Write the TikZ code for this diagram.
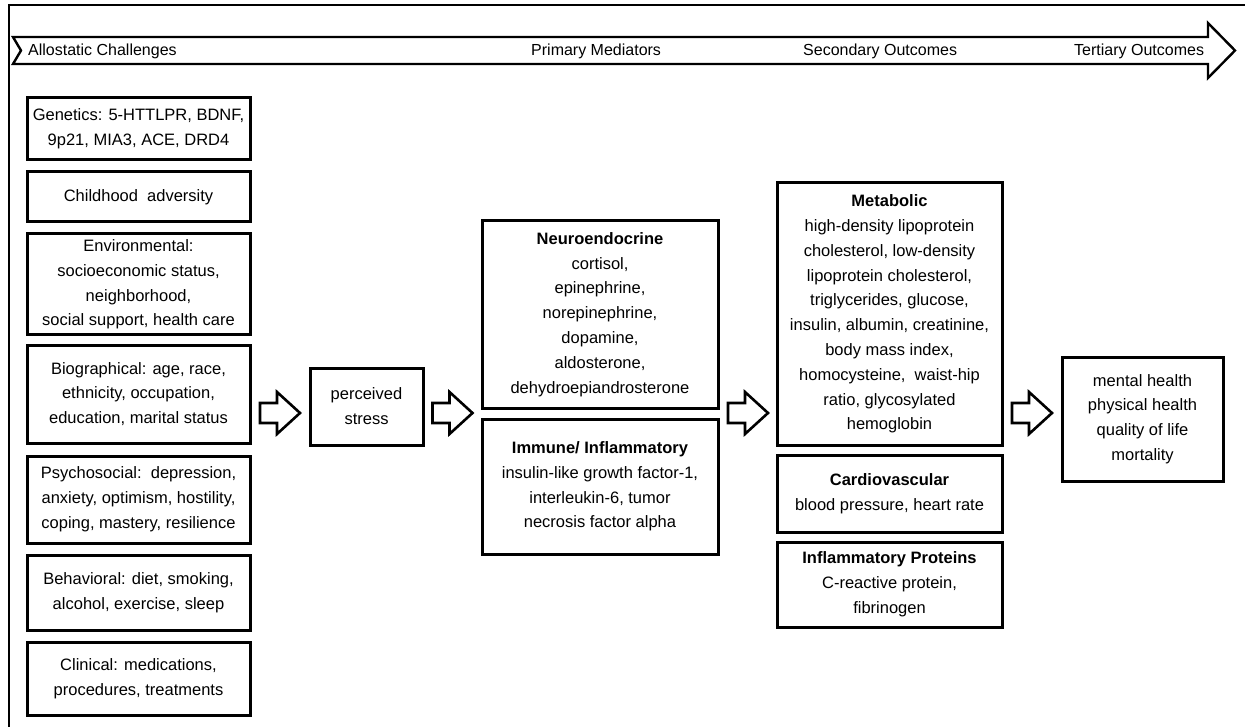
\documentclass[tikz,border=0pt]{standalone}
\usepackage{fontspec}
\setmainfont{Liberation Sans}
\newcommand\boxfont{\fontsize{16.5}{24.8}\selectfont}
\newcommand\labfont{\fontsize{16}{19}\selectfont}
\tikzset{
  box/.style={draw, line width=3pt, inner sep=0pt, align=center, font=\boxfont},
  lab/.style={anchor=west, inner sep=0pt, font=\labfont},
  frameline/.style={line width=1.8pt},
  pics/blockarrow/.style={code={
    \draw[line width=2.6pt, line join=miter] (-20,-10) -- (-3,-10) -- (-3,-21) -- (20,0) -- (-3,21) -- (-3,10) -- (-20,10) -- cycle;}}
}
\begin{document}
\begin{tikzpicture}[x=1pt,y=-1pt]
\useasboundingbox (0,0) rectangle (1245,727);
% frame
\draw[frameline] (9,727) -- (9,5) -- (1245,5);
% top arrow
\draw[line width=2.4pt, line join=miter] (13,37) -- (1208,37) -- (1208,23) -- (1235,50.5) -- (1208,78) -- (1208,64) -- (13,64) -- (21,50.5) -- cycle;
\node[lab] (l1) at (28,51) {Allostatic Challenges};
\node[lab] (l2) at (531,51) {Primary Mediators};
\node[lab] (l3) at (803,51) {Secondary Outcomes};
\node[lab] (l4) at (1074,51) {Tertiary Outcomes};
% left column
\node[box, minimum width=223pt, minimum height=62pt] (gen) at (138.5,129) {Genetics: 5-HTTLPR, BDNF,\\9p21, MIA3, ACE, DRD4};
\node[box, minimum width=223pt, minimum height=50pt] (child) at (138.5,197) {Childhood\ \ adversity};
\node[box, minimum width=223pt, minimum height=101pt] (env) at (138.5,284.5) {Environmental:\\socioeconomic status,\\neighborhood,\\social support, health care};
\node[box, minimum width=223pt, minimum height=98pt] (bio) at (138.5,394) {Biographical: age, race,\\ethnicity, occupation,\\education, marital status};
\node[box, minimum width=223pt, minimum height=87pt] (psy) at (138.5,499.5) {Psychosocial:\ \ depression,\\anxiety, optimism, hostility,\\coping, mastery, resilience};
\node[box, minimum width=223pt, minimum height=75pt] (beh) at (138.5,592.5) {Behavioral: diet, smoking,\\alcohol, exercise, sleep};
\node[box, minimum width=223pt, minimum height=73pt] (cli) at (138.5,678.5) {Clinical: medications,\\procedures, treatments};
% perceived stress
\node[box, minimum width=113pt, minimum height=77pt] (ps) at (366.5,406.5) {perceived\\stress};
% primary mediators
\node[box, minimum width=236pt, minimum height=187pt] (neu) at (600,314.5) {\textbf{Neuroendocrine}\\cortisol,\\epinephrine,\\norepinephrine,\\dopamine,\\aldosterone,\\dehydroepiandrosterone};
\node[box, minimum width=236pt, minimum height=135pt] (imm) at (600,486.5) {\textbf{Immune/ Inflammatory}\\insulin-like growth factor-1,\\interleukin-6, tumor\\necrosis factor alpha};
% secondary outcomes
\node[box, minimum width=225pt, minimum height=262pt] (met) at (889.5,314) {\textbf{Metabolic}\\high-density lipoprotein\\cholesterol, low-density\\lipoprotein cholesterol,\\triglycerides, glucose,\\insulin, albumin, creatinine,\\body mass index,\\homocysteine,\ \ waist-hip\\ratio, glycosylated\\hemoglobin};
\node[box, minimum width=225pt, minimum height=77pt] (car) at (889.5,493.5) {\textbf{Cardiovascular}\\blood pressure, heart rate};
\node[box, minimum width=225pt, minimum height=85pt] (inf) at (889.5,584.5) {\textbf{Inflammatory Proteins}\\C-reactive protein,\\fibrinogen};
% tertiary outcomes
\node[box, minimum width=161pt, minimum height=124pt] (ter) at (1142.5,419) {mental health\\physical health\\quality of life\\mortality};
% block arrows
\pic (a1) at (280,413) {blockarrow};
\pic (a2) at (452.5,413) {blockarrow};
\pic (a3) at (748,413) {blockarrow};
\pic (a4) at (1032,413) {blockarrow};
\end{tikzpicture}
\end{document}
